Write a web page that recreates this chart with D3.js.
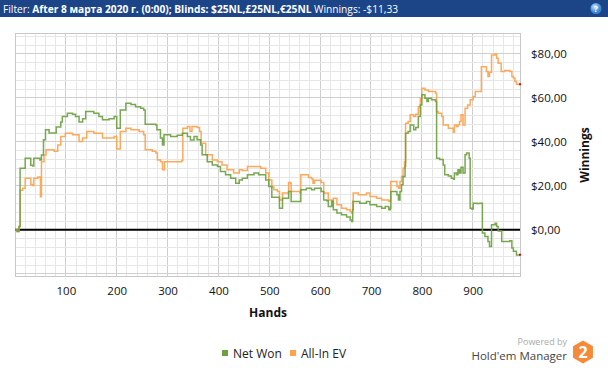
<!DOCTYPE html>
<html><head><meta charset="utf-8">
<script src="https://cdn.jsdelivr.net/npm/d3@7"></script>
<style>body{margin:0;background:#fff;}svg{display:block;font-family:"Open Sans",sans-serif;}</style>
</head><body><svg id="c" width="608" height="368"></svg>
<script>
// ---- data ----
const netWonHands = [0,4,8,10,17,20,28,31,35,37,47,49,52,56,60,67,77,81,90,93,103,113,119,126,133,139,152,155,163,165,172,185,195,200,205,207,218,228,237,247,253,256,277,279,286,290,293,306,319,329,339,345,352,358,365,368,378,388,398,404,414,424,434,441,447,457,470,479,493,499,505,516,520,524,526,533,538,542,543,556,562,573,583,589,602,607,613,616,623,626,633,642,652,659,662,664,665,675,678,691,698,711,721,728,735,738,739,747,751,754,757,760,763,767,768,773,777,782,784,788,793,797,800,806,810,813,819,827,829,835,842,845,852,858,863,864,868,871,874,877,881,885,888,893,895,898,901,908,914,919,924,930,933,937,944,947,950,957,967,973,977,980,986,991];
const netWonValues = [0,-0.8,1.5,28,28,32.6,32.6,29.4,29,32.6,32.6,31.8,34,41,45.5,44,44,46.8,49,51.5,53,52.5,51.5,49,50.5,53.8,53.8,53,53,51.5,50,50.5,51.5,46.2,46.2,54.5,57.6,57,56,55.3,54.5,48,47.7,45.5,41.7,38.6,43.2,42.4,43,43.9,42.4,40.9,42.4,41,38.6,34.1,31,29.5,28.8,26.5,25,23.5,21.2,22.7,23.5,25,25.8,25,22.7,19.7,14.8,14.8,9.8,9.8,14.4,14.4,17.4,17.4,12.9,12.9,18.2,18.9,18.2,18.9,17.4,13.6,13.2,10.6,13,9.1,7.6,6.8,5.8,4.5,3.8,9.1,12.9,12.9,12.1,12.9,11.4,10.6,9.8,10.6,9.1,9.8,17.4,17.4,15.9,13.6,17.4,20.5,24.2,28.8,43.9,44.7,47.7,47.7,45.5,46.5,51.5,56.8,61.4,59.8,58.3,59.8,59.1,58.3,32.6,32,29.5,25,24.5,23.5,23,25.8,25,27.3,25.8,28.5,25.8,34.1,34.9,32.6,9.8,9.5,12.1,12,12.1,-1.5,-3,-5.3,-7.6,2.3,3,1.5,-0.5,-5.3,-5.3,-5,-8.3,-9.8,-11.4,-11.33];
const allInEvHands = [0,4,8,10,15,20,28,31,35,37,45,48,50,52,57,61,77,84,90,99,113,126,133,141,152,155,165,172,185,195,200,205,207,218,228,244,253,256,270,277,280,286,290,294,325,328,330,339,344,348,358,363,366,375,388,398,407,417,430,441,447,457,466,473,483,493,499,505,509,516,520,524,526,533,538,542,543,560,562,573,577,583,586,589,602,607,616,623,626,633,642,652,659,662,664,665,675,691,698,711,721,735,738,739,747,751,754,757,760,763,766,768,773,777,784,788,793,797,800,806,813,827,829,832,839,842,852,862,864,868,871,874,877,881,885,890,895,901,905,914,917,924,927,930,933,937,944,947,950,956,963,973,977,980,983,986,991];
const allInEvValues = [0,-0.8,1.5,18,18.9,23.5,23.5,20.6,20.2,23.5,24,24,15,31,34,36.4,35.7,38.6,42.4,43.9,43.2,40.2,41.7,44.7,44.7,43.9,43.9,41.7,41.7,42.4,36.7,36.7,44.7,46.2,45.5,44.7,43.2,36.4,35.7,34.9,31.8,31,27.3,31,31,31.5,46.2,47,44.7,47,46.5,44.7,39.4,34.1,31.8,31,29.5,27.3,25.8,27.3,27,28.8,28.8,28.8,28,25.8,22.7,19.5,18.2,17.4,13.6,13.6,16.7,16.7,21.5,21.2,17.4,16.8,25,25,23.8,23.2,21.2,22.5,21.5,16.7,13.6,12.9,14.4,11.4,9.8,9.1,8.3,7.6,13,16.7,15.9,16.7,15.2,14.4,13.6,12.9,13.2,22,22,19.7,18.9,22,24.2,28,31,48.5,49.2,52.3,51.5,52.5,56,59.8,64.4,63.6,62.9,62.1,53.8,53,51.5,47.7,46.2,44.4,47.7,47,47.7,49.2,52.3,47.7,55.3,56.8,59.1,60.6,62.9,62.9,74.2,74.2,72,69.7,71.6,79.5,80,78,75.8,72,72.5,72,69.7,69,67.4,66.2,66.2];
const xTickValues = [100,200,300,400,500,600,700,800,900];
const yTickValues = [0,20,40,60,80];
const seriesNames = ["Net Won","All-In EV"];
const seriesColors = ["#6da140","#ffa24d"];
const headerParts = [["Filter: ",false],["After 8 марта 2020 г. (0:00); Blinds: $25NL,£25NL,€25NL",true],[" Winnings: -$11,33",false]];

// ---- layout ----
const svg = d3.select("#c");
const P = {l:15, r:520, t:33, b:276};
const x = d3.scaleLinear().domain([0,993]).range([P.l,P.r]);
const y = d3.scaleLinear().domain([-21,89.5]).range([P.b,P.t]);

// header
svg.append("rect").attr("x",0).attr("y",0).attr("width",608).attr("height",17).attr("fill","#1c4587");
const ht = svg.append("text").attr("x",3).attr("y",12.5).attr("fill","#fff").attr("font-size",10.2);
headerParts.forEach(([t,b])=>ht.append("tspan").attr("font-weight",b?"bold":"normal").text(t));
const grad = svg.append("defs").append("radialGradient").attr("id","hg").attr("cx","40%").attr("cy","35%");
grad.append("stop").attr("offset","0%").attr("stop-color","#cfe6ff");
grad.append("stop").attr("offset","100%").attr("stop-color","#3a86d0");
svg.append("circle").attr("cx",596).attr("cy",8.5).attr("r",5.5).attr("fill","url(#hg)");
svg.append("text").attr("x",596).attr("y",11.5).attr("text-anchor","middle").attr("font-size",8).attr("font-weight","bold").attr("fill","#fff").text("?");

// grid
const g = svg.append("g");
d3.range(20,993,20).forEach(v=>{
  g.append("line").attr("x1",x(v)).attr("x2",x(v)).attr("y1",P.t).attr("y2",P.b)
   .attr("stroke",v%100===0?"#cfcfcf":"#e6e6e6").attr("stroke-width",1).attr("shape-rendering","crispEdges");
});
d3.range(-20,89,4).forEach(v=>{
  g.append("line").attr("x1",P.l).attr("x2",P.r).attr("y1",y(v)).attr("y2",y(v))
   .attr("stroke",v%20===0?"#cfcfcf":"#e6e6e6").attr("stroke-width",1).attr("shape-rendering","crispEdges");
});
g.append("rect").attr("x",P.l).attr("y",P.t).attr("width",P.r-P.l).attr("height",P.b-P.t)
 .attr("fill","none").attr("stroke","#c8c8c8").attr("shape-rendering","crispEdges");

// zero line
g.append("line").attr("x1",P.l).attr("x2",P.r).attr("y1",y(0)).attr("y2",y(0)).attr("stroke","#000").attr("stroke-width",2);

// axes labels
const xa = svg.append("g").attr("transform",`translate(0,${P.b})`)
  .call(d3.axisBottom(x).tickValues(xTickValues).tickSize(0).tickPadding(11));
xa.select(".domain").remove();
xa.selectAll("text").attr("font-size",11.5).attr("fill","#111").attr("font-family","'Open Sans',sans-serif");
const ya = svg.append("g").attr("transform",`translate(${P.r},0)`)
  .call(d3.axisRight(y).tickValues(yTickValues).tickSize(0).tickPadding(11).tickFormat(v=>"$"+d3.format(".2f")(v).replace(".",",")));
ya.select(".domain").remove();
ya.selectAll("text").attr("font-size",11.5).attr("fill","#111").attr("font-family","'Open Sans',sans-serif");

svg.append("text").attr("x",268).attr("y",317).attr("text-anchor","middle").attr("font-size",12).attr("font-weight","bold").attr("fill","#111").text("Hands");
svg.append("text").attr("transform","translate(589,155) rotate(-90)").attr("text-anchor","middle").attr("font-size",12).attr("font-weight","bold").attr("fill","#111").text("Winnings");

// lines
const series = [[netWonHands,netWonValues],[allInEvHands,allInEvValues]];
const line = d3.line().x(d=>x(d[0])).y(d=>y(d[1])).curve(d3.curveStepAfter);
[1,0].forEach(i=>{
  const pts = series[i][0].map((h,k)=>[h,series[i][1][k]]);
  svg.append("path").datum(pts).attr("d",line).attr("fill","none").attr("stroke",seriesColors[i]).attr("stroke-width",1.5).attr("stroke-opacity",0.92);
  const last = pts[pts.length-1];
  svg.append("rect").attr("x",x(last[0])).attr("y",y(last[1])-1).attr("width",2).attr("height",2).attr("fill","#e00");
});

// legend
const lg = svg.append("g");
const legX = [222, 290];
seriesNames.forEach((n,i)=>{
  lg.append("rect").attr("x",legX[i]).attr("y",350).attr("width",6).attr("height",6).attr("fill",seriesColors[i]);
  lg.append("text").attr("x",legX[i]+11).attr("y",358).attr("font-size",12).attr("fill","#222").text(n);
});

// branding
svg.append("text").attr("x",567).attr("y",344.5).attr("text-anchor","end").attr("font-size",9).attr("fill","#aaa").text("Powered by");
svg.append("text").attr("x",567).attr("y",359.5).attr("text-anchor","end").attr("font-size",11.5).attr("fill","#444").text("Hold'em Manager");
const hx=583, hy=352, hr=11.5;
const hex = d3.range(6).map(k=>{const a=Math.PI/3*k+Math.PI/6;return [hx+hr*Math.cos(a),hy+hr*Math.sin(a)];});
svg.append("polygon").attr("points",hex.map(p=>p.join(",")).join(" ")).attr("fill","#f58a3a");
svg.append("text").attr("x",hx).attr("y",hy+5.5).attr("text-anchor","middle").attr("font-size",16).attr("font-weight","bold").attr("fill","#fff").text("2");
</script></body></html>
